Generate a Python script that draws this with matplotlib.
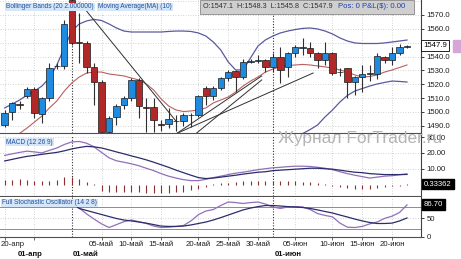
import matplotlib
matplotlib.use("Agg")
import matplotlib.pyplot as plt
from matplotlib import transforms

# ---- data (daily candles, 20 Apr - 22 Jun) ----
opens = [1490.6, 1500.2, 1505.6, 1511.5, 1516.6, 1498.5, 1510.0, 1533.0, 1533.5, 1581.0,
         1550.4, 1549.6, 1532.7, 1521.8, 1485.7, 1496.6, 1505.0, 1510.3, 1523.1, 1503.6,
         1503.8, 1491.0, 1491.1, 1493.8, 1493.5, 1497.5, 1497.8, 1517.5, 1511.5, 1517.5,
         1524.3, 1529.6, 1525.5, 1536.3, 1536.8, 1537.5, 1532.2, 1540.0, 1532.2, 1542.3,
         1546.5, 1546.0, 1542.3, 1537.5, 1542.3, 1529.0, 1531.5, 1521.8, 1525.5, 1527.4,
         1527.4, 1539.5, 1537.5, 1542.8, 1547.1]
highs = [1501.5, 1507.4, 1508.0, 1518.0, 1517.8, 1511.0, 1535.0, 1535.5, 1566.4, 1590.0,
         1571.4, 1551.5, 1535.0, 1523.0, 1497.0, 1505.5, 1511.5, 1524.3, 1524.5, 1510.0,
         1509.9, 1494.0, 1503.0, 1498.0, 1499.0, 1499.0, 1512.5, 1518.5, 1518.5, 1525.5,
         1530.5, 1530.5, 1538.0, 1538.0, 1541.0, 1538.5, 1542.3, 1547.1, 1543.0, 1548.0,
         1553.2, 1550.7, 1543.0, 1550.7, 1543.0, 1532.0, 1532.0, 1526.0, 1533.9, 1534.0,
         1542.3, 1540.5, 1547.1, 1549.0, 1548.3]
lows = [1489.0, 1494.2, 1502.0, 1510.0, 1495.4, 1491.8, 1508.0, 1531.0, 1531.0, 1548.0,
        1535.3, 1527.9, 1505.0, 1480.0, 1483.0, 1490.6, 1502.0, 1508.0, 1495.4, 1485.7,
        1485.7, 1486.0, 1488.4, 1486.0, 1490.0, 1489.0, 1496.0, 1505.0, 1508.6, 1516.0,
        1522.0, 1514.6, 1524.0, 1535.0, 1535.5, 1529.0, 1529.0, 1520.7, 1525.5, 1540.0,
        1541.0, 1540.0, 1531.5, 1534.0, 1526.7, 1526.0, 1510.0, 1512.2, 1514.6, 1522.0,
        1524.0, 1535.0, 1534.0, 1541.0, 1545.8]
closes = [1499.5, 1506.2, 1505.2, 1516.6, 1499.0, 1510.0, 1532.0, 1533.5, 1563.5, 1549.6,
          1550.0, 1532.7, 1521.8, 1485.7, 1495.8, 1504.5, 1510.3, 1523.1, 1504.5, 1503.0,
          1494.2, 1490.6, 1494.7, 1493.2, 1497.8, 1497.9, 1511.5, 1511.5, 1517.5, 1524.3,
          1529.1, 1525.5, 1536.3, 1536.8, 1537.5, 1532.2, 1540.0, 1530.0, 1542.3, 1547.1,
          1547.0, 1542.3, 1537.5, 1542.3, 1528.0, 1528.5, 1521.8, 1525.5, 1527.4, 1527.8,
          1540.4, 1537.5, 1542.8, 1547.1, 1547.9]

bb_upper = [1502.9, 1505.7, 1508.6, 1512.2, 1515.1, 1518.7, 1524.5, 1533.9, 1546.2, 1558.4,
            1563.5, 1565.7, 1566.8, 1566.0, 1563.5, 1560.6, 1558.4, 1557.7, 1557.7, 1557.7,
            1557.7, 1557.7, 1558.1, 1558.4, 1558.4, 1558.1, 1557.0, 1554.8, 1550.5, 1544.7,
            1536.1, 1530.3, 1530.3, 1539.0, 1547.6, 1552.0, 1554.8, 1557.0, 1558.4, 1559.5,
            1560.3, 1560.6, 1559.9, 1558.4, 1556.3, 1553.4, 1551.2, 1549.8, 1549.4, 1549.4,
            1549.4, 1549.8, 1550.5, 1551.2, 1551.9]
bb_lower_idx = list(range(38, 55))
bb_lower = [1474.0, 1479.7, 1484.4, 1487.3, 1490.6, 1496.4, 1501.4, 1507.2, 1511.9, 1515.1,
            1516.9, 1518.7, 1520.2, 1521.3, 1522.3, 1522.0, 1521.6]
ma10 = [1478.0, 1481.0, 1484.5, 1488.4, 1492.7, 1497.1, 1502.9, 1507.9, 1515.1, 1520.9,
        1525.2, 1528.1, 1528.8, 1528.8, 1527.4, 1526.7, 1526.0, 1524.5, 1523.1, 1520.2,
        1515.8, 1509.4, 1504.3, 1501.4, 1500.3, 1500.7, 1501.4, 1502.9, 1506.5, 1508.6,
        1510.8, 1514.4, 1518.7, 1522.3, 1525.2, 1528.8, 1531.0, 1532.5, 1533.5, 1533.9,
        1534.3, 1533.9, 1533.2, 1532.5, 1531.7, 1530.3, 1528.8, 1526.7, 1525.2, 1525.6,
        1526.7, 1528.8, 1530.3, 1532.1, 1533.9]

macd = [18.4, 19.4, 20.3, 21.1, 20.6, 20.0, 21.6, 23.1, 25.3, 26.9,
        27.2, 26.1, 23.8, 20.3, 16.9, 15.0, 14.1, 13.1, 11.9, 10.3,
        8.8, 6.9, 5.3, 4.1, 3.1, 2.5, 2.5, 3.3, 4.4, 5.3,
        6.3, 7.2, 7.8, 8.6, 9.4, 10.0, 10.6, 10.9, 11.3, 11.6,
        11.6, 11.4, 10.9, 10.3, 9.4, 8.1, 6.9, 5.9, 5.0, 4.1,
        4.7, 5.3, 5.6, 6.2, 6.7]
signal = [14.9, 15.9, 16.9, 17.8, 18.4, 19.1, 19.7, 20.3, 21.3, 22.5,
          23.4, 24.1, 23.8, 23.1, 21.9, 20.6, 19.4, 18.1, 16.9, 15.6,
          14.1, 12.5, 10.9, 9.1, 7.5, 5.9, 4.4, 3.8, 4.1, 4.7,
          5.3, 5.9, 6.6, 7.2, 7.8, 8.1, 8.8, 9.1, 9.4, 9.7,
          10.0, 10.3, 10.3, 10.0, 9.7, 9.1, 8.4, 7.8, 7.5, 6.9,
          6.6, 6.3, 6.3, 6.3, 6.4]
hist = [2.9, 2.9, 3.4, 2.9, 2.1, 2.0, 2.4, 2.9, 5.0, 4.6,
        3.6, 1.5, 0.2, -4.2, -4.6, -4.8, -4.9, -5.0, -5.0, -5.2,
        -5.3, -5.6, -5.4, -5.0, -4.4, -3.6, -2.6, -1.4, 0.4, 0.8,
        1.2, 1.8, 2.2, 2.4, 2.5, 2.4, 2.4, 2.2, 2.1, 2.0,
        1.8, 1.5, 0.8, 0.4, -1.2, -1.8, -2.4, -2.6, -2.7, -2.6,
        -2.4, -1.6, -1.0, -0.6, 0.33362]

stoch_k = [95, 96, 93, 95, 92, 93, 97, 98, 98, 90,
           78, 62, 48, 35, 25, 33, 41, 45.5, 41, 36,
           29, 25, 26, 28, 30.5, 43, 60, 70, 74, 85,
           94.5, 93, 90.5, 93, 94.5, 89, 81, 77, 81, 82,
           81, 74, 63, 58, 54, 37, 26, 25, 28, 35,
           40, 50, 56, 66, 86.7]
stoch_d = [94, 95, 95, 94, 94, 93, 94, 96, 97, 93,
           77, 71.5, 66, 60.5, 55, 49.6, 45.5, 43, 40, 37,
           33, 29, 28, 28, 29, 32, 36, 40, 45.5, 52,
           59, 66, 73, 78, 82, 85, 85, 83.6, 82, 81,
           79.6, 77, 73, 68.7, 64.6, 59, 53.7, 48, 43, 38.7,
           36, 36, 37, 43, 51]

# hand-drawn trend lines: (start index, start price, end index, end price)
trend_lines = [(10.1, 1578.7, 23.1, 1492.7),
               (23.1, 1484.5, 41.4, 1528.1),
               (23.1, 1484.5, 34.5, 1526.0),
               (25.7, 1484.5, 34.5, 1523.1)]

date_ticks = [0, 4, 13, 17, 21, 26, 30, 34, 39, 44, 48, 52]
date_labels = ["20-апр", "", "05-май", "10-май", "15-май", "20-май", "25-май",
               "30-май", "05-июн", "10-июн", "15-июн", "20-июн"]
month_lines = [9, 36]
month_labels = [(1.7, "01-апр"), (9.1, "01-май"), (36.3, "01-июн")]

# ---- figure ----
W, H = 461, 259
fig = plt.figure(figsize=(W / 100, H / 100), dpi=100)
fig.patch.set_facecolor("white")
plt.rcParams["font.family"] = "Liberation Sans"


def px_axes(x0, y0, x1, y1):
    return fig.add_axes([x0 / W, 1 - y1 / H, (x1 - x0) / W, (y1 - y0) / H])


ax = px_axes(0, 0, 421, 133)
axm = px_axes(0, 134.5, 421, 195.5)
axs = px_axes(0, 197, 421, 236.7)

n = len(closes)
idx = list(range(n))
xlim = (-0.63, 55.88)
GRID = "#c4c4c4"

for a in (ax, axm, axs):
    a.set_xlim(*xlim)
    a.set_facecolor("white")
    for s in ("top", "left"):
        a.spines[s].set_visible(False)
    a.spines["right"].set_color("#404040")
    a.spines["bottom"].set_color("#505050")
    a.spines["right"].set_linewidth(0.8)
    a.spines["bottom"].set_linewidth(0.8)
    a.yaxis.tick_right()
    a.tick_params(axis="y", direction="out", length=2.5, width=0.6, pad=1.5,
                  labelsize=5.6, colors="#202020")
    a.set_xticks(date_ticks)
    a.tick_params(axis="x", length=0)
    a.set_xticklabels([])
    for t in date_ticks:
        a.axvline(t, color=GRID, lw=0.6, ls=(0, (1, 2)), zorder=0)
    for m in month_lines:
        a.axvline(m, color="#303030", lw=0.8, ls=(0, (1, 1.5)), zorder=1)

# ---- price panel ----
price_ticks = list(range(1490, 1580, 10))
ax.set_ylim(1484.8, 1580.8)
ax.set_yticks(price_ticks)
# the 1550.0 label sits under the last-price tag
ax.set_yticklabels(["" if v == 1550 else "%.1f" % v for v in price_ticks])
for v in range(1490, 1581, 10):
    ax.axhline(v, color=GRID, lw=0.6, ls=(0, (1, 2)), zorder=0)

ax.plot(idx, bb_upper, color="#5a5a9e", lw=0.9, zorder=2)
ax.plot(bb_lower_idx, bb_lower, color="#5a5a9e", lw=0.9, zorder=2)
ax.plot(idx, ma10, color="#b86060", lw=0.8, zorder=2)
for x0, y0, x1, y1 in trend_lines:
    ax.plot([x0, x1], [y0, y1], color="#303030", lw=0.7, zorder=2)

body_w = 0.86
for i in idx:
    o, h, l, c = opens[i], highs[i], lows[i], closes[i]
    ax.vlines(i, l, h, color="#303030", lw=0.8, zorder=3)
    col = "#1e8ae0" if c >= o else "#b02828"
    bottom = min(o, c)
    height = max(abs(c - o), 0.35)
    ax.bar(i, height, bottom=bottom, width=body_w, color=col,
           edgecolor="#1a1a1a", linewidth=0.5, zorder=4)

# price tag at the last close
ax.text(1.005, closes[-1], "%.1f" % closes[-1], transform=ax.get_yaxis_transform(),
        ha="left", va="center", fontsize=5.6, color="black", zorder=10,
        bbox=dict(boxstyle="square,pad=0.25", fc="white", ec="black", lw=0.6),
        clip_on=False)
fig.patches.append(plt.Rectangle((453 / W, 1 - 52 / H), 8 / W, 12 / H,
                                 transform=fig.transFigure, color="#d6a6d6", zorder=5))

# ---- MACD panel ----
axm.set_ylim(-6.9, 31.6)
axm.set_yticks([10, 20, 30])
axm.set_yticklabels(["10.00", "20.00", "30.00"])
for v in (10, 20, 30):
    axm.axhline(v, color=GRID, lw=0.6, ls=(0, (1, 2)), zorder=0)
axm.vlines(idx, 0, hist, color="#8a3030", lw=0.8, zorder=2)
axm.plot(idx, macd, color="#9070b8", lw=0.9, zorder=3)
axm.plot(idx, signal, color="#2c2c6c", lw=0.9, zorder=3)
axm.text(1.007, hist[-1], "%.5f" % hist[-1], transform=axm.get_yaxis_transform(),
         ha="left", va="center", fontsize=5.6, color="white", zorder=10,
         bbox=dict(boxstyle="square,pad=0.25", fc="black", ec="black"), clip_on=False)

# ---- stochastic panel ----
axs.set_ylim(0, 108.2)
axs.set_yticks([0, 50, 100])
# the 100 label sits under the %K tag
axs.set_yticklabels(["0", "50", ""])
axs.axhline(80, color="#8c8c8c", lw=0.7, zorder=1)
axs.axhline(20, color="#8c8c8c", lw=0.7, zorder=1)
axs.axhline(50, color=GRID, lw=0.6, ls=(0, (1, 2)), zorder=0)
axs.plot(idx, stoch_k, color="#9070b8", lw=0.9, zorder=3)
axs.plot(idx, stoch_d, color="#2c2c6c", lw=0.9, zorder=3)
axs.text(1.007, stoch_k[-1], "%.2f" % stoch_k[-1], transform=axs.get_yaxis_transform(),
         ha="left", va="center", fontsize=5.6, color="white", zorder=10,
         bbox=dict(boxstyle="square,pad=0.25", fc="black", ec="black"), clip_on=False)

# x axis date labels
axs.tick_params(axis="x", direction="out", length=2.5, width=0.6, color="#505050")
tr = transforms.blended_transform_factory(axs.transData, fig.transFigure)
for t, lab in zip(date_ticks, date_labels):
    if t == 0:
        fig.text(0.5 / W, 1 - 245 / H, lab, ha="left", va="center",
                 fontsize=5.6, color="#202020")
    else:
        fig.text(t, 1 - 245 / H, lab, transform=tr, ha="center", va="center",
                 fontsize=5.6, color="#202020")
for x, lab in month_labels:
    fig.text(x, 1 - 255 / H, lab, transform=tr, ha="left", va="center",
             fontsize=5.6, fontweight="bold", color="#101010")

# ---- panel captions and header ----
cap = dict(boxstyle="square,pad=0.15", fc="#d4e6f7", ec="none")
fig.text(6 / W, 1 - 7 / H, "Bollinger Bands (20 2.000000)", fontsize=4.7, color="#2050a0",
         va="center", bbox=cap, zorder=20)
fig.text(98 / W, 1 - 7 / H, "Moving Average(MA) (10)", fontsize=4.7, color="#2050a0",
         va="center", bbox=cap, zorder=20)
fig.text(6 / W, 1 - 142 / H, "MACD (12 26 9)", fontsize=4.7, color="#2050a0",
         va="center", bbox=cap, zorder=20)
fig.text(2 / W, 1 - 203 / H, "Full Stochastic Oscillator (14 2 8)", fontsize=4.7,
         color="#2050a0", va="center", bbox=cap, zorder=20)
fig.patches.append(plt.Rectangle((200 / W, 1 - 14 / H), 214 / W, 14 / H,
                                 transform=fig.transFigure, fc="#cfcfcf", ec="#888888",
                                 lw=0.6, zorder=15))
ohlc = "O:%.1f  H:%.1f  L:%.1f  C:%.1f" % (opens[-1], highs[-1], lows[-1], closes[-1])
fig.text(203 / W, 1 - 7 / H, ohlc, fontsize=5.2, color="#303030", va="center", zorder=20)
fig.text(338 / W, 1 - 7 / H, "Pos: 0 P&L($): 0.00", fontsize=5.6, color="#2040b0",
         va="center", zorder=20)

# watermark
fig.text(278 / W, 1 - 139 / H, "Журнал ForTrader.ru", fontsize=12.5, color="#b4b4b4",
         va="center", ha="left", zorder=25)

fig.savefig("out.png", dpi=100)
